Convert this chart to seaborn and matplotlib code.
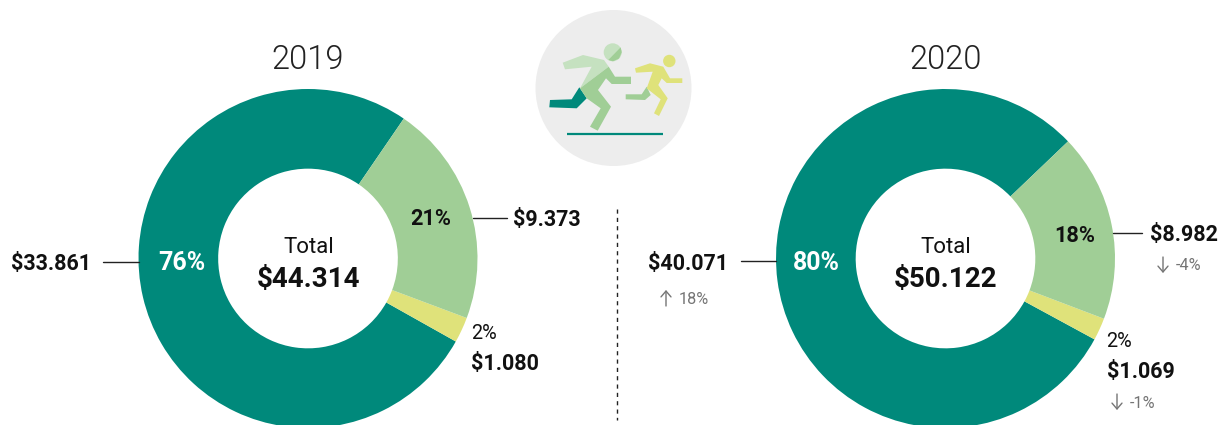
import matplotlib
matplotlib.use("Agg")
import matplotlib.pyplot as plt
import seaborn as sns
from matplotlib.patches import Circle, Polygon

W, H = 1225, 425

# valores de cada ano
segmentos = ["Principal", "Medio", "Pequeno"]
valores_2019 = [33861, 9373, 1080]
valores_2020 = [40071, 8982, 1069]
pct_2019 = ["76%", "21%", "2%"]
pct_2020 = ["80%", "18%", "2%"]
rotulos_2019 = ["$33.861", "$9.373", "$1.080"]
rotulos_2020 = ["$40.071", "$8.982", "$1.069"]
total_2019 = "$44.314"
total_2020 = "$50.122"
variacao_2020 = ["18%", "-4%", "-1%"]

TEAL, VERDE, AMARELO = "#00897B", "#A0CE96", "#DFE27A"
CINZA = "#757575"

sns.set_theme(style="white")
plt.rcParams["font.family"] = ["Roboto", "DejaVu Sans"]

fig = plt.figure(figsize=(W / 100, H / 100), dpi=100, facecolor="white")

# camada em pixels para textos e linhas
tela = fig.add_axes([0, 0, 1, 1])
tela.set_xlim(0, W)
tela.set_ylim(H, 0)
tela.axis("off")


def donut(cx, cy, r, valores, inicio):
    # eixo proprio em pixels, a parte de baixo sai da figura
    ax = fig.add_axes([(cx - r) / W, 1 - (cy + r) / H, 2 * r / W, 2 * r / H])
    ax.pie(valores, colors=sns.color_palette([TEAL, AMARELO, VERDE]),
           startangle=inicio, counterclock=True, radius=1,
           wedgeprops={"width": 0.47, "linewidth": 0})
    ax.set_xlim(-1, 1)
    ax.set_ylim(-1, 1)
    ax.set_aspect("equal")
    ax.axis("off")
    ax.set_zorder(0)


def txt(x, y, s, size=16, weight="normal", color="#111111", ha="left"):
    tela.text(x, y + 1, s, fontsize=size, fontweight=weight, color=color,
              ha=ha, va="center")


def painel(valores, inicio, cx):
    # ordem horaria a partir do fim do verde: teal, amarelo, verde
    donut(cx, 258.5, 169.5, [valores[0], valores[2], valores[1]], inicio)


# o verde acaba em 55.6 graus em 2019 e 43.7 em 2020
painel(valores_2019, 55.6, 308)
painel(valores_2020, 43.7, 945.5)
tela.set_zorder(5)

# 2019
txt(308, 59, "2019", 23.5, 300, "#222222", "center")
txt(308.5, 246.5, "Total", 16, ha="center")
txt(308, 278, total_2019, 20, "bold", ha="center")
txt(181.5, 262.5, pct_2019[0], 18, "bold", "white", "center")
txt(431, 217.5, pct_2019[1], 15.7, "bold", ha="center")
txt(471, 332.5, pct_2019[2], 14.3)
txt(10.5, 262.5, rotulos_2019[0], 15.5, "bold")
txt(512.5, 218.5, rotulos_2019[1], 15.5, "bold")
txt(471.5, 362.5, rotulos_2019[2], 15.5, "bold")
tela.plot([103, 139], [262, 262], color="#222222", lw=1)
tela.plot([473, 507], [218, 218], color="#222222", lw=1)

# 2020
txt(945.5, 59, "2020", 23.5, 300, "#222222", "center")
txt(946, 246.5, "Total", 16, ha="center")
txt(945.5, 278, total_2020, 20, "bold", ha="center")
txt(816, 262.5, pct_2020[0], 18, "bold", "white", "center")
txt(1075, 234.5, pct_2020[1], 15.7, "bold", ha="center")
txt(1106, 340.5, pct_2020[2], 14.3)
txt(648, 262.5, rotulos_2020[0], 15.5, "bold")
txt(1150, 233.5, rotulos_2020[1], 15.5, "bold")
txt(1106.5, 370.5, rotulos_2020[2], 15.5, "bold")
tela.plot([741, 776], [261, 261], color="#222222", lw=1)
tela.plot([1113, 1142], [233, 233], color="#222222", lw=1)

# variacao
txt(679, 298, variacao_2020[0], 11.7, color=CINZA)
txt(1176, 265, variacao_2020[1], 11.7, color=CINZA)
txt(1130, 402, variacao_2020[2], 11.7, color=CINZA)
for x, y, d in [(666, 298, -1), (1163, 265, 1), (1117, 402, 1)]:
    tela.annotate("", xy=(x, y + d * 8), xytext=(x, y - d * 8),
                  arrowprops=dict(arrowstyle="->,head_length=0.35,head_width=0.3",
                                  color=CINZA, lw=1, shrinkA=0, shrinkB=0))

# divisoria
tela.plot([617, 617], [209, 420], color="#222222", lw=1, dashes=(3, 3))

# icone dos corredores
tela.add_patch(Circle((613.5, 88), 78, color="#EDEDED", lw=0))
tela.plot([567, 663], [134, 134], color=TEAL, lw=1.6, solid_capstyle="butt")
C1 = "#C5E1C0"
# corredor da frente
tela.add_patch(Polygon([(579.3, 87.3), (586.7, 98.3), (576.7, 108.3), (549.3, 107.3),
                        (550, 100), (571.7, 99.3)], color=TEAL, lw=0))
tela.add_patch(Polygon([(562.7, 62.7), (583, 55), (604, 60), (608.7, 66.7), (580, 88.3),
                        (591.7, 66.7), (565, 69.3)], color=C1, lw=0))
tela.add_patch(Polygon([(608.7, 66.7), (615, 76.7), (631, 76.7), (631, 84), (611.7, 84),
                        (606, 78.3), (598, 90), (611, 106.7), (597.7, 130.7), (590, 126.7),
                        (600.7, 108.3), (586.7, 98.3), (580, 88.3)], color=VERDE, lw=0))
tela.add_patch(Circle((612.7, 52.3), 9, color=C1, lw=0))
tela.add_patch(Polygon([(620.7, 47.3), (608.3, 60), (613, 61.3), (619, 58.5), (621.7, 52.3)],
                       color=VERDE, lw=0))
# corredor de tras
tela.add_patch(Polygon([(646.7, 86.7), (650.7, 95), (645, 100), (625.7, 99.3), (625.7, 94.3),
                        (641.7, 94.3)], color=VERDE, lw=0))
tela.add_patch(Polygon([(635, 68.3), (650, 63.3), (663.3, 66.7), (670, 78.3), (682.3, 78.3),
                        (682.3, 83), (666.7, 83), (661.7, 78.3), (658.3, 85), (667.7, 98.3),
                        (659, 116), (654, 113.3), (660.7, 99.3), (646.7, 88.3), (652.7, 71.7),
                        (636, 72.7)], color=AMARELO, lw=0))
tela.add_patch(Circle((669.3, 61), 6.2, color=AMARELO, lw=0))

fig.savefig("out.png", dpi=100)
